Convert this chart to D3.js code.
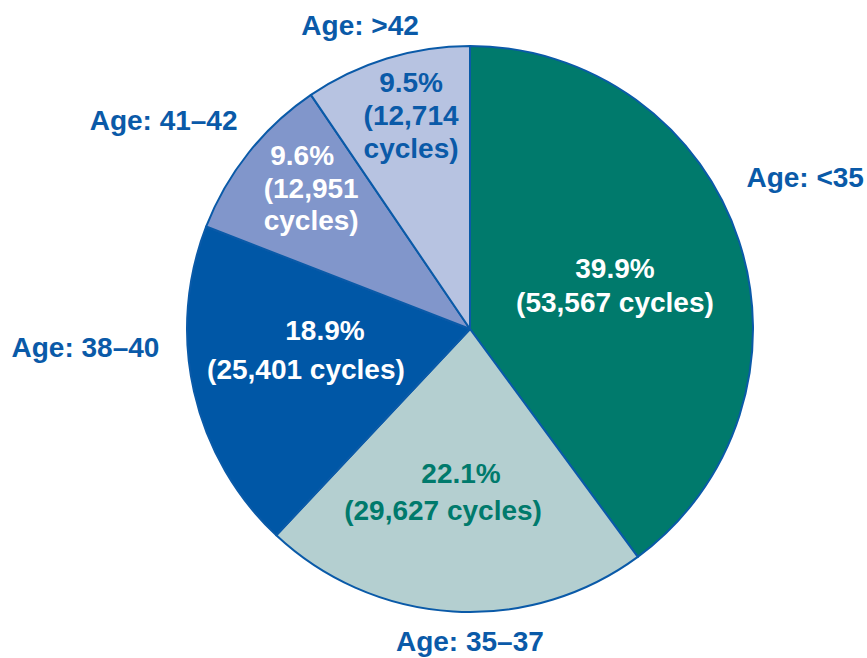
<!DOCTYPE html>
<html>
<head>
<meta charset="utf-8">
<title>Cycles by age group</title>
<script src="https://d3js.org/d3.v7.min.js"></script>
<style>
  body { margin: 0; background: #fff; }
  text { font-family: "Liberation Sans", Arial, sans-serif; font-weight: bold; font-size: 28px; }
</style>
</head>
<body>
<svg id="svg" width="867" height="658"></svg>
<script>
// data
const groups  = ["Age: <35", "Age: 35\u201337", "Age: 38\u201340", "Age: 41\u201342", "Age: >42"];
const percent = [39.9, 22.1, 18.9, 9.6, 9.5];
const cycles  = ["53,567", "29,627", "25,401", "12,951", "12,714"];

const fills     = ["#007a6c", "#b4cfd0", "#0057a6", "#8196cb", "#b7c3e1"];
const textFills = ["#fff", "#007a6c", "#fff", "#fff", "#0a5aa8"];
const lineBlue  = "#0a5aa8";

// label placement: [radius, angle nudge in degrees], relative to slice middle
const outerPos = [[368, -6.2], [312, -3.4], [385, 10.1], [371, -4.2], [323, -2.8]];
const innerPos = [[151.5, 1.3], [164.7, 6], [165.3, 5.7], [212.5, 3.1], [222, 1.7]];
const lineGap  = [34, 37, 39, 32.5, 33];
const firstDx  = [0, 18, 19, -9, 0];
// inner labels wrap onto 3 lines in the narrow slices
const wrap = [false, false, false, true, true];

const svg = d3.select("#svg");
const cx = 470, cy = 329, r = 283;
const g = svg.append("g").attr("transform", `translate(${cx},${cy})`);

const pie = d3.pie().sort(null).value(d => d);
const arcs = pie(percent);
const arc = d3.arc().innerRadius(0).outerRadius(r);

g.selectAll("path.slice")
  .data(arcs)
  .join("path")
  .attr("class", "slice")
  .attr("d", arc)
  .attr("fill", (d, i) => fills[i])
  .attr("stroke", lineBlue)
  .attr("stroke-width", 2)
  .attr("stroke-linejoin", "round");

function polar(d, p) {
  const a = (d.startAngle + d.endAngle) / 2 + p[1] * Math.PI / 180;
  return [Math.sin(a) * p[0], -Math.cos(a) * p[0]];
}

// outer group labels
arcs.forEach((d, i) => {
  const [x, y] = polar(d, outerPos[i]);
  g.append("text")
    .attr("x", x)
    .attr("y", y)
    .attr("dy", "0.35em")
    .attr("text-anchor", "middle")
    .attr("fill", lineBlue)
    .text(groups[i]);
});

// inner value labels
arcs.forEach((d, i) => {
  const [x, y] = polar(d, innerPos[i]);
  const lines = wrap[i]
    ? [percent[i].toFixed(1) + "%", "(" + cycles[i], "cycles)"]
    : [percent[i].toFixed(1) + "%", "(" + cycles[i] + " cycles)"];
  const lh = lineGap[i];
  const t = g.append("text")
    .attr("text-anchor", "middle")
    .attr("fill", textFills[i]);
  lines.forEach((s, k) => {
    t.append("tspan")
      .attr("x", x + (k === 0 ? firstDx[i] : 0))
      .attr("y", y + (k - (lines.length - 1) / 2) * lh)
      .attr("dy", "0.35em")
      .text(s);
  });
});
</script>
</body>
</html>
